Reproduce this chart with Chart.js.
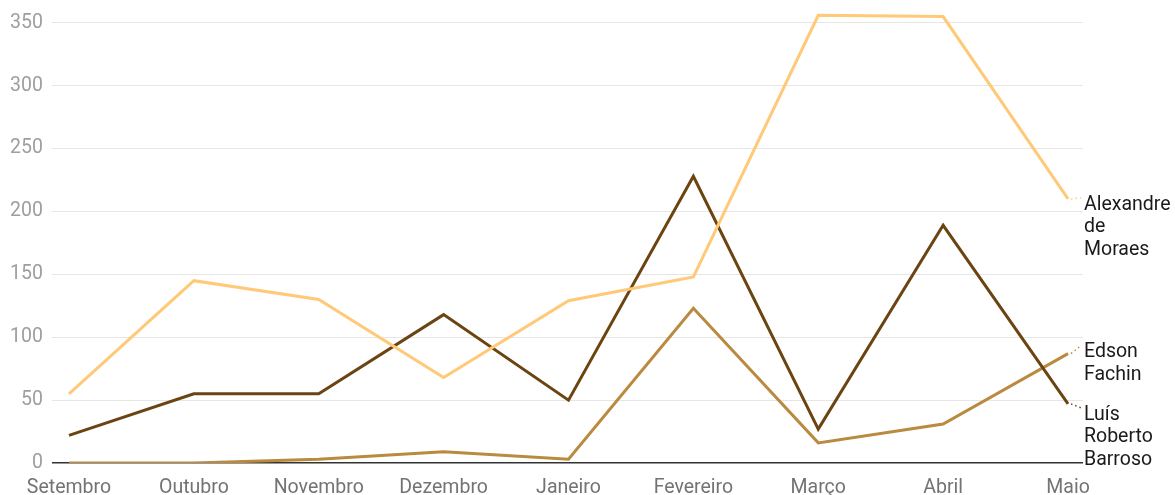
<!DOCTYPE html>
<html>
<head>
<meta charset="utf-8">
<script src="https://cdn.jsdelivr.net/npm/chart.js@4.4.0/dist/chart.umd.min.js"></script>
<style>
  html, body { margin: 0; padding: 0; background: #fff; }
  #wrap { width: 1175px; height: 495px; }
</style>
</head>
<body>
<div id="wrap"><canvas id="myChart"></canvas></div>
<script>
// meses e valores
var months = ["Setembro", "Outubro", "Novembro", "Dezembro", "Janeiro", "Fevereiro", "Março", "Abril", "Maio"];
var moraes = [55, 145, 130, 68, 129, 148, 356, 355, 210];
var barroso = [22, 55, 55, 118, 50, 228, 27, 189, 47];
var fachin = [0, 0, 3, 9, 3, 123, 16, 31, 87];
var yTicks = [0, 50, 100, 150, 200, 250, 300, 350];

var names = [["Alexandre", "de", "Moraes"], ["Luís", "Roberto", "Barroso"], ["Edson", "Fachin"]];
var colors = ["#ffc978", "#6b4412", "#b98a3f"];
var nudge = [6, 11, -1];

function pts(arr) {
  return arr.map(function (v, i) { return {x: i, y: v}; });
}

// rotulos no fim das linhas
const endLabels = {
  id: 'endLabels',
  afterDatasetsDraw(chart) {
    const ctx = chart.ctx;
    const xs = chart.scales.x, ys = chart.scales.y;
    const lx = chart.chartArea.right + 1;
    ctx.save();
    ctx.font = '19.5px Roboto';
    ctx.textBaseline = 'middle';
    chart.data.datasets.forEach(function (ds, i) {
      const last = ds.data[ds.data.length - 1];
      const px = xs.getPixelForValue(last.x);
      const py = ys.getPixelForValue(last.y);
      const top = py + nudge[i];
      // pontilhado
      ctx.strokeStyle = ds.borderColor;
      ctx.lineWidth = 1.5;
      ctx.setLineDash([1.5, 3]);
      ctx.beginPath();
      ctx.moveTo(px + 3, py);
      ctx.lineTo(lx - 3, top - 7);
      ctx.stroke();
      ctx.setLineDash([]);
      ctx.fillStyle = '#1a1a1a';
      names[i].forEach(function (t, k) {
        ctx.fillText(t, lx, top + k * 22.5);
      });
    });
    ctx.restore();
  }
};

new Chart("myChart", {
  type: "line",
  data: {
    datasets: [
      {label: "Alexandre de Moraes", data: pts(moraes), borderColor: colors[0]},
      {label: "Luís Roberto Barroso", data: pts(barroso), borderColor: colors[1]},
      {label: "Edson Fachin", data: pts(fachin), borderColor: colors[2]}
    ]
  },
  options: {
    responsive: true,
    maintainAspectRatio: false,
    animation: false,
    layout: {padding: {top: 4, right: 92, left: 0, bottom: 0}},
    elements: {
      line: {borderWidth: 3, tension: 0},
      point: {radius: 0}
    },
    plugins: {
      legend: {display: false},
      tooltip: {enabled: false}
    },
    scales: {
      x: {
        type: 'linear',
        min: -0.136,
        max: 8.12,
        grid: {display: false},
        border: {display: false},
        afterBuildTicks: function (s) {
          s.ticks = months.map(function (m, i) { return {value: i}; });
        },
        afterFit: function (s) { s.height = 32; s.paddingLeft = 0; s.paddingRight = 0; },
        ticks: {
          autoSkip: false,
          maxRotation: 0,
          padding: 5,
          color: '#737373',
          font: {family: 'Roboto', size: 19.5},
          callback: function (v) { return months[v]; }
        }
      },
      y: {
        min: 0,
        max: 365,
        afterBuildTicks: function (s) {
          s.ticks = yTicks.map(function (v) { return {value: v}; });
        },
        afterFit: function (s) { s.width = 52; s.paddingTop = 0; s.paddingBottom = 0; },
        border: {display: false},
        grid: {
          drawTicks: false,
          lineWidth: function (c) { return c.tick && c.tick.value === 0 ? 1.5 : 1; },
          color: function (c) { return c.tick && c.tick.value === 0 ? '#333' : '#e6e6e6'; }
        },
        ticks: {
          padding: 9,
          color: '#9e9e9e',
          font: {family: 'Roboto', size: 19.5}
        }
      }
    }
  },
  plugins: [endLabels]
});
</script>
</body>
</html>
